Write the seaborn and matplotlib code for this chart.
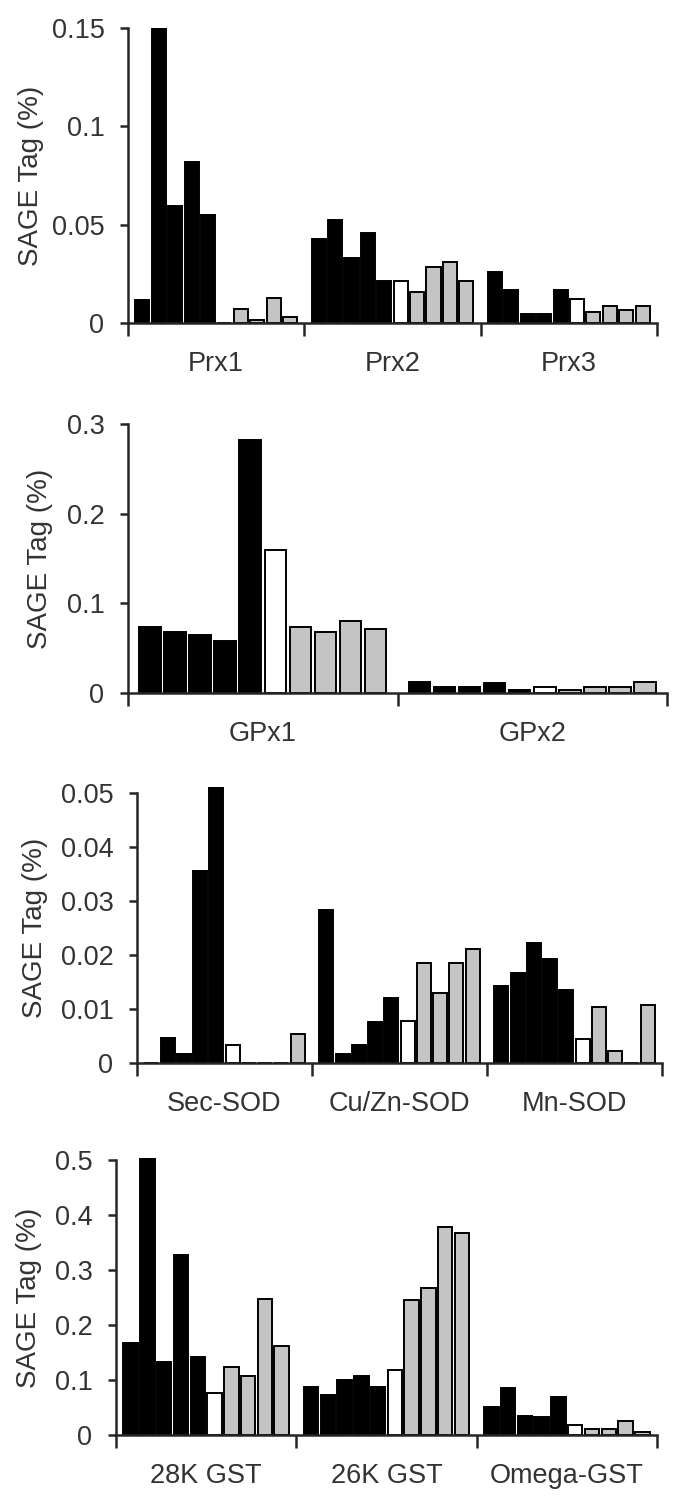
import numpy as np
import pandas as pd
import matplotlib
matplotlib.use("Agg")
import matplotlib.pyplot as plt
import seaborn as sns

# 10 SAGE libraries per gene: 5 black, 1 white, 4 gray
libs = ["L%d" % i for i in range(10)]
lib_colors = ["black"] * 5 + ["white"] + ["#c4c4c4"] * 4

# Peroxiredoxins
prx_genes = ["Prx1", "Prx2", "Prx3"]
prx1 = [0.0115, 0.150, 0.0593, 0.082, 0.055, 0.0, 0.0071, 0.0017, 0.0127, 0.0029]
prx2 = [0.0427, 0.0525, 0.0329, 0.0458, 0.0212, 0.0212, 0.0156, 0.0285, 0.031, 0.0212]
prx3 = [0.0258, 0.017, 0.0047, 0.0047, 0.017, 0.0122, 0.0056, 0.0088, 0.0064, 0.0085]
prx_ticks = [0, 0.05, 0.1, 0.15]

# Glutathione peroxidases
gpx_genes = ["GPx1", "GPx2"]
gpx1 = [0.074, 0.0685, 0.0648, 0.058, 0.2826, 0.160, 0.074, 0.068, 0.080, 0.0715]
gpx2 = [0.0119, 0.0063, 0.0067, 0.011, 0.0037, 0.0067, 0.0037, 0.0063, 0.0067, 0.012]
gpx_ticks = [0, 0.1, 0.2, 0.3]

# Superoxide dismutases
sod_genes = ["Sec-SOD", "Cu/Zn-SOD", "Mn-SOD"]
sec_sod = [0.0, 0.0047, 0.0017, 0.0355, 0.0511, 0.0033, 0.0, 0.0, 0.0, 0.0053]
cuzn_sod = [0.0283, 0.0017, 0.0033, 0.0076, 0.0121, 0.0077, 0.0186, 0.013, 0.0186, 0.0212]
mn_sod = [0.0142, 0.0166, 0.0223, 0.0192, 0.0135, 0.0045, 0.0103, 0.0022, 0.0, 0.0107]
sod_ticks = [0, 0.01, 0.02, 0.03, 0.04, 0.05]

# Glutathione S-transferases
gst_genes = ["28K GST", "26K GST", "Omega-GST"]
gst28 = [0.168, 0.503, 0.132, 0.327, 0.141, 0.0758, 0.124, 0.107, 0.248, 0.162]
gst26 = [0.0867, 0.0727, 0.100, 0.108, 0.0867, 0.118, 0.245, 0.268, 0.378, 0.367]
omega_gst = [0.0515, 0.086, 0.0345, 0.0333, 0.0697, 0.018, 0.011, 0.011, 0.0255, 0.005]
gst_ticks = [0, 0.1, 0.2, 0.3, 0.4, 0.5]

sns.set_style("ticks")
plt.rcParams["font.family"] = ["Liberation Sans", "DejaVu Sans"]
txt = "#333333"

W, H = 692, 1510
fig = plt.figure(figsize=(W / 100, H / 100), dpi=100)


def draw_panel(genes, values, yticks, left, right, y0, ytick_top, ylab_right):
    df = pd.DataFrame({
        "gene": np.repeat(genes, 10),
        "lib": libs * len(genes),
        "tag": np.concatenate(values),
    })
    ymax = yticks[-1]
    top = max(ymax, df["tag"].max())
    px = (y0 - ytick_top) / ymax
    ax_top = y0 - top * px
    ax = fig.add_axes([left / W, 1 - y0 / H, (right - left) / W, (y0 - ax_top) / H])
    sns.barplot(data=df, x="gene", y="tag", hue="lib", hue_order=libs,
                palette=dict(zip(libs, lib_colors)), width=0.93, gap=0.14,
                saturation=1, edgecolor="black", linewidth=1.4,
                errorbar=None, legend=False, ax=ax)
    n = len(genes)
    ax.set_xlim(-0.5, n - 0.5)
    ax.set_ylim(0, top)
    ax.set_xticks(np.arange(n + 1) - 0.5)
    ax.set_xticklabels([""] * (n + 1))
    ax.set_xticks(np.arange(n), minor=True)
    ax.set_xticklabels(genes, minor=True, fontsize=19.5, color=txt)
    ax.tick_params(axis="x", which="major", length=9, width=1.8, direction="out")
    ax.tick_params(axis="x", which="minor", length=0, pad=20)
    ax.set_yticks(yticks)
    ax.set_yticklabels(["%g" % t for t in yticks], fontsize=19.5, color=txt)
    ax.tick_params(axis="y", length=6, width=1.8, pad=11)
    ax.set_xlabel("")
    ax.set_ylabel("SAGE Tag (%)", fontsize=20, color=txt)
    ax.yaxis.set_label_coords((ylab_right - left) / (right - left),
                              (y0 - (y0 + ytick_top) / 2) / (y0 - ax_top))
    sns.despine(ax=ax)
    ax.spines["left"].set_bounds(0, ymax)
    for s in ("left", "bottom"):
        ax.spines[s].set_linewidth(1.8)
    return ax


draw_panel(prx_genes, [prx1, prx2, prx3], prx_ticks, 128, 657, 323, 28, 44)
draw_panel(gpx_genes, [gpx1, gpx2], gpx_ticks, 128, 667, 693, 424, 53)
draw_panel(sod_genes, [sec_sod, cuzn_sod, mn_sod], sod_ticks, 137, 662, 1063, 793, 48)
draw_panel(gst_genes, [gst28, gst26, omega_gst], gst_ticks, 116, 657, 1435, 1160, 42)

fig.savefig("out.png", dpi=100, facecolor="white")
